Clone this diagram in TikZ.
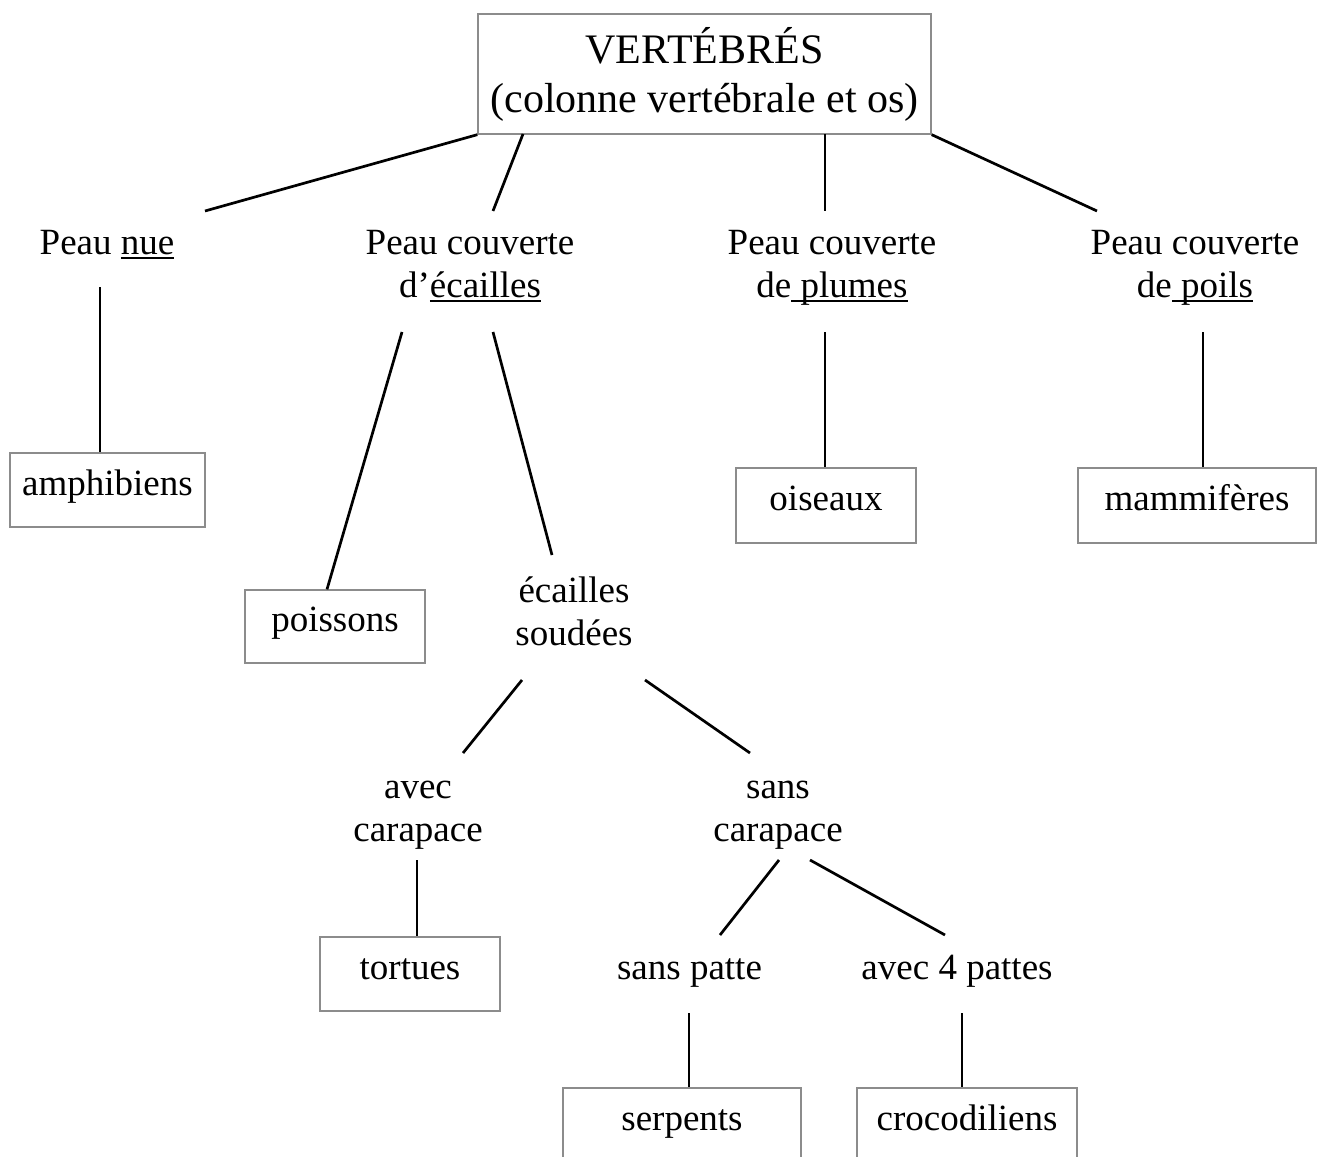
\documentclass[tikz,border=0pt]{standalone}
\usepackage{fontspec}
\setmainfont{Liberation Serif}
\newcommand\ulin[1]{\setbox0\hbox{#1}\rlap{\rule[-4.5pt]{\wd0}{1.8pt}}\box0}
\begin{document}
\begin{tikzpicture}[x=1pt,y=-1pt,
  lbl/.style={font=\fontsize{37}{43}\selectfont, align=center, inner sep=0pt},
  leafbox/.style={draw=black!45, line width=1.3pt, font=\fontsize{37}{43}\selectfont,
     inner sep=0pt, text height=22pt, text depth=12pt},
  conn/.style={line width=2.7pt, black}]
\useasboundingbox (0,0) rectangle (1319,1156);
\fill[white] (0,0) rectangle (1319,1156);

% top box
\node[draw=black!45, line width=1.3pt, font=\fontsize{42}{49}\selectfont, align=center,
  inner sep=0pt, minimum width=453pt, minimum height=120pt] (top) at (704.5,74)
  {VERTÉBRÉS\\(colonne vertébrale et os)};

% level 2
\node[lbl] (nue) at (107,245.4) {\strut Peau \ulin{nue}};
\node[lbl] (ecai) at (470,266.9) {\strut Peau couverte\\\strut d’\ulin{écailles}};
\node[lbl] (plum) at (832,266.9) {\strut Peau couverte\\\strut de\ulin{ plumes}};
\node[lbl] (poil) at (1195,266.9) {\strut Peau couverte\\\strut de\ulin{ poils}};

% leaves level
\node[leafbox, minimum width=195pt, minimum height=74pt] (amph) at (107.5,490) {amphibiens};
\node[leafbox, minimum width=180pt, minimum height=73pt] (pois) at (335,626.5) {poissons};
\node[leafbox, minimum width=180pt, minimum height=75pt] (oise) at (826,505.5) {oiseaux};
\node[leafbox, minimum width=238pt, minimum height=75pt] (mamm) at (1197,505.5) {mammifères};

% level 3
\node[lbl] (soud) at (574,614.9) {\strut écailles\\\strut soudées};
\node[lbl] (avec) at (418,810.9) {\strut avec\\\strut carapace};
\node[lbl] (sans) at (778,810.9) {\strut sans\\\strut carapace};
\node[leafbox, minimum width=180pt, minimum height=74pt] (tort) at (410,974) {tortues};
\node[lbl] (spat) at (689.5,971) {\strut sans patte};
\node[lbl] (apat) at (957,971) {\strut avec 4 pattes};
\node[leafbox, minimum width=238pt, minimum height=75pt] (serp) at (682,1125.5) {serpents};
\node[leafbox, minimum width=220pt, minimum height=75pt] (croc) at (967,1125.5) {crocodiliens};

% free ends
\coordinate (t2) at (523,134);
\coordinate (t3) at (825,134);
\coordinate (e1) at (205,211);
\coordinate (e2) at (493,211);
\coordinate (e3) at (825,211);
\coordinate (e4) at (1097,211);
\coordinate (n1) at (100,287);
\coordinate (d1) at (402,332);
\coordinate (d1b) at (327,590);
\coordinate (d2) at (493,332);
\coordinate (d2b) at (552,555);
\coordinate (p1) at (825,332);
\coordinate (m1) at (1203,332);
\coordinate (s1) at (522,680);
\coordinate (s1b) at (463,753);
\coordinate (s2) at (645,680);
\coordinate (s2b) at (750,753);
\coordinate (a1) at (417,860);
\coordinate (c1) at (779,860);
\coordinate (c1b) at (720,935);
\coordinate (c2) at (810,860);
\coordinate (c2b) at (945,935);
\coordinate (sp1) at (689,1013);
\coordinate (ap1) at (962,1013);

\draw[conn] (top.south west) -- (e1);
\draw[conn] (t2) -- (e2);
\draw[conn] (t3) -- (e3);
\draw[conn] (top.south east) -- (e4);
\draw[conn] (n1) -- (n1 |- amph.north);
\draw[conn] (d1) -- (d1b |- pois.north);
\draw[conn] (d2) -- (d2b);
\draw[conn] (p1) -- (p1 |- oise.north);
\draw[conn] (m1) -- (m1 |- mamm.north);
\draw[conn] (s1) -- (s1b);
\draw[conn] (s2) -- (s2b);
\draw[conn] (a1) -- (a1 |- tort.north);
\draw[conn] (c1) -- (c1b);
\draw[conn] (c2) -- (c2b);
\draw[conn] (sp1) -- (sp1 |- serp.north);
\draw[conn] (ap1) -- (ap1 |- croc.north);
\end{tikzpicture}
\end{document}
